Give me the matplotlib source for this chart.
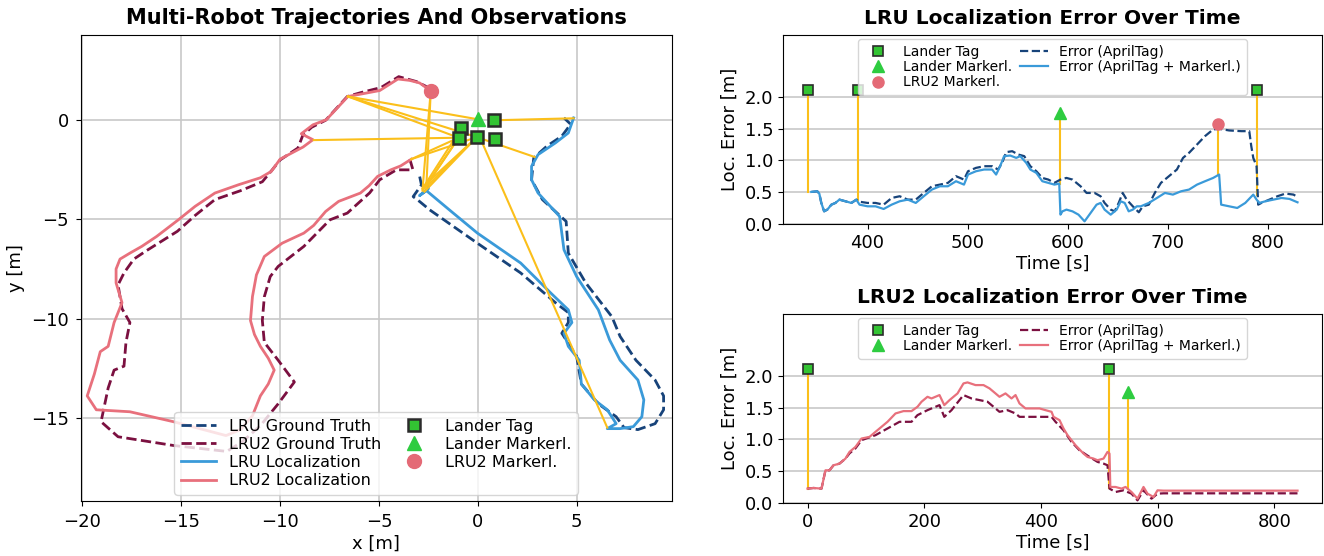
import matplotlib
matplotlib.use("Agg")
import matplotlib.pyplot as plt

plt.rcParams['font.family'] = ['DejaVu Sans']

# ---------------- data: trajectories (m) ----------------
lru_gt_x = [-2.94, -2.85, -3.27, -2.94, -2.43, -0.02, 2.17, 3.93, 4.58, 4.58, 4.25, 5.0, 5.24, 6.1, 7.0, 7.4,
            8.1, 8.97, 9.4, 9.4, 8.97, 8.0, 7.2, 6.78, 5.46, 4.58, 4.47, 3.27, 2.72, 2.83, 3.5, 4.25, 4.7, 4.36]
lru_gt_y = [-2.84, -3.26, -3.85, -4.1, -4.52, -6.2, -7.7, -9.2, -9.7, -10.2, -10.74, -11.9, -13.3, -14.3, -14.95, -15.5,
            -15.6, -15.3, -14.6, -13.9, -13.1, -12.1, -10.9, -9.9, -8.2, -6.7, -5.1, -4.0, -3.0, -1.9, -1.3, -0.8, -0.2, 0.12]

lru_loc_x = [-2.55, -2.5, -2.95, -2.6, -1.34, -0.02, 2.17, 3.7, 4.58, 4.76, 4.36, 4.58, 5.13, 5.24, 5.9, 6.55, 7.0,
             6.55, 7.2, 7.87, 8.3, 8.4, 8.1, 7.2, 6.67, 6.1, 5.0, 4.36, 4.14, 3.05, 2.72, 2.72, 3.05, 3.93, 4.58, 4.85]
lru_loc_y = [-3.1, -3.45, -3.8, -3.55, -4.6, -5.69, -7.2, -8.72, -9.56, -10.2, -10.74, -11.4, -12.1, -13.3, -14.1, -14.6, -15.3,
             -15.55, -15.55, -15.45, -14.95, -14.1, -13.1, -12.1, -11.08, -9.56, -7.88, -6.53, -4.85, -3.67, -3.0, -2.32, -1.73, -1.14, -0.64, 0.12]

lru2_gt_x = [-3.44, -3.28, -4.12, -4.96, -5.47, -6.6, -7.48, -8.8, -10.1, -10.5, -10.8, -10.9, -10.8, -10.1, -9.28, -10.1,
             -11.0, -11.9, -12.7, -15.4, -18.2, -19.06, -18.7, -18.4, -17.9, -17.8, -17.6, -18.0, -18.2, -17.9, -17.4,
             -16.8, -16.0, -15.2, -14.3, -13.3, -12.0, -10.9, -10.4, -10.0, -9.1, -8.85, -8.4, -7.7, -6.6, -5.9, -4.9,
             -4.0, -3.1, -2.6]
lru2_gt_y = [-1.96, -2.5, -2.5, -3.0, -3.66, -4.68, -5.02, -6.36, -7.37, -7.88, -8.9, -10.1, -11.2, -12.1, -13.2, -14.3,
             -15.4, -16.2, -16.7, -16.4, -15.96, -15.2, -13.5, -12.6, -12.4, -11.2, -10.2, -9.5, -8.3, -7.7, -7.0,
             -6.6, -6.1, -5.6, -4.8, -4.0, -3.55, -3.1, -2.5, -2.0, -1.4, -0.75, -0.35, 0.0, 1.2, 1.4, 1.65,
             2.2, 1.95, 1.7]

lru2_loc_x = [-3.36, -3.9, -4.4, -5.07, -5.5, -5.94, -7.04, -7.7, -8.3, -8.8, -9.9, -10.8, -11.2, -11.4, -11.5, -11.3,
              -11.0, -10.6, -10.3, -10.6, -11.0, -11.4, -12.0, -12.74, -15.4, -17.6, -19.3, -19.76, -19.4, -19.1, -18.7,
              -18.4, -18.0, -18.3, -18.3, -18.1, -17.6, -17.0, -16.25, -15.15, -14.3, -13.3, -12.1, -11.0, -10.45,
              -10.0, -8.84, -8.34, -8.93, -8.34, -7.66, -6.57, -5.81, -4.96, -4.04, -3.44, -2.94, -2.52, -2.38]
lru2_loc_y = [-1.96, -2.3, -2.5, -2.83, -3.3, -3.67, -4.09, -4.6, -5.3, -5.69, -6.2, -6.87, -7.8, -8.89, -10.1, -10.8,
              -11.4, -12.0, -12.6, -13.3, -13.9, -14.9, -15.6, -15.9, -15.2, -14.7, -14.6, -13.9, -12.8, -11.67, -11.4,
              -10.2, -9.2, -8.2, -7.5, -7.0, -6.7, -6.36, -5.86, -5.02, -4.34, -3.67, -3.25, -2.9, -2.58,
              -1.96, -1.35, -0.98, -0.68, -0.23, 0.03, 1.2, 1.34, 1.5, 2.08, 2.01, 1.88, 1.58, 1.49]

# landmarks
tag_x = [0.83, -0.83, -0.97, -0.05, 0.85]
tag_y = [0.0, -0.4, -0.88, -0.85, -0.92]
mk_x = [0.0]
mk_y = [0.05]
lru2mk_x = [-2.37]
lru2mk_y = [1.5]

# observation rays: robot position -> landmark
obs_x0 = [-6.57, -6.57, -6.57, -8.3, -2.38, -2.38, -3.36, -3.36, -2.6, -2.65, -2.75, -2.7, -2.8, -2.6, 2.87, 4.85, 6.55]
obs_y0 = [1.2, 1.2, 1.2, -1.0, 1.49, 1.49, -1.96, -1.96, -3.3, -3.4, -3.5, -3.6, -3.45, -3.2, -1.85, 0.1, -15.5]
obs_x1 = [0.0, -0.97, -0.05, -0.97, -2.6, -2.8, -0.97, -0.05, -0.97, -0.05, -0.97, -0.05, -0.83, -0.05, -0.05, 0.83, 0.1]
obs_y1 = [0.05, -0.88, -0.85, -0.88, -3.3, -3.55, -0.88, -0.85, -0.88, -0.85, -0.88, -0.85, -0.4, -0.85, -0.85, 0.0, -0.85]

# ---------------- data: LRU error over time ----------------
lru_t = [343.8, 349.8, 351.8, 353.8, 356.6, 359.8, 363.9, 367.9, 371.9, 377.9, 383.9, 388.8, 392.0, 400, 408, 416.1,
         424.1, 432.1, 440.2, 448.2, 456.2, 464.3, 472.3, 480.3, 488.4, 496.4, 500.4, 508.4, 516.5, 524.5, 528.5,
         532.5, 536.5, 542.6, 548.6, 552.6, 558.6, 562.7, 568.7, 574.7, 580.7, 586.7, 591.6, 592.8, 594.8, 598.8,
         604.8, 610.8, 616.9, 622.9, 628.9, 632.9, 636.9, 643.0, 649.0, 653.0, 657.0, 661.0, 665.1, 669.1, 673.1,
         681.1, 689.2, 697.2, 705.2, 713.3, 721.3, 729.3, 737.3, 745.4, 751.4, 753.4, 761.4, 769.5, 777.5, 785.5,
         788.8, 791.6, 797.6, 805.6, 813.7, 821.7, 829.7]
lru_err_both = [0.504, 0.514, 0.478, 0.331, 0.199, 0.226, 0.304, 0.331, 0.383, 0.357, 0.331, 0.383, 0.304, 0.278, 0.278, 0.236,
                0.304, 0.357, 0.383, 0.331, 0.436, 0.541, 0.593, 0.593, 0.672, 0.619, 0.777, 0.829, 0.856, 0.856, 0.777,
                0.908, 1.066, 1.076, 1.039, 1.066, 0.961, 0.856, 0.803, 0.672, 0.646, 0.619, 0.635, 0.147, 0.199, 0.226,
                0.199, 0.147, 0.042, 0.173, 0.304, 0.331, 0.226, 0.147, 0.226, 0.357, 0.331, 0.199, 0.226, 0.278, 0.278,
                0.331, 0.409, 0.488, 0.462, 0.514, 0.541, 0.619, 0.672, 0.724, 0.777, 0.304, 0.278, 0.252, 0.331, 0.462,
                0.383, 0.331, 0.357, 0.383, 0.409, 0.394, 0.341]

lru_t_at = [343.8, 349.8, 351.8, 353.8, 356.6, 359.8, 363.9, 367.9, 371.9, 377.9, 383.9, 388.8, 392.0, 400, 408, 416.1,
            424.1, 432.1, 440.2, 448.2, 456.2, 464.3, 472.3, 480.3, 488.4, 496.4, 500.4, 508.4, 516.5, 524.5, 530.5,
            534.5, 538.6, 544.6, 550.6, 556.6, 562.7, 568.7, 574.7, 580.7, 586.7, 592.8, 598.8, 604.8, 612.9, 618.9,
            626.9, 632.9, 636.9, 643.0, 647.0, 651.0, 655.0, 659.0, 665.1, 671.1, 675.1, 681.1, 687.1, 693.2, 701.2,
            709.2, 715.3, 721.3, 729.3, 737.3, 745.4, 751.4, 761.4, 773.5, 781.5, 783.5, 785.5, 788.8, 790.4, 793.6,
            801.6, 809.6, 817.7, 825.7, 829.7]
lru_err_at = [0.504, 0.514, 0.478, 0.331, 0.199, 0.226, 0.304, 0.331, 0.383, 0.357, 0.331, 0.383, 0.35, 0.331, 0.331, 0.304,
              0.409, 0.436, 0.383, 0.383, 0.488, 0.593, 0.619, 0.646, 0.751, 0.698, 0.829, 0.882, 0.908, 0.908, 0.856,
              0.961, 1.129, 1.144, 1.092, 1.066, 0.908, 0.829, 0.724, 0.698, 0.646, 0.698, 0.724, 0.698, 0.593, 0.488,
              0.488, 0.436, 0.331, 0.226, 0.199, 0.331, 0.488, 0.383, 0.278, 0.184, 0.278, 0.304, 0.488, 0.646, 0.751,
              0.856, 1.039, 1.118, 1.249, 1.381, 1.486, 1.496, 1.470, 1.459, 1.459, 1.223, 1.039, 0.908, 0.304, 0.331,
              0.383, 0.436, 0.478, 0.462, 0.425]

lru_tag_t = [340, 390, 789]
lru_tag_h = [2.1, 2.1, 2.1]
lru_tag_bottom = [0.5, 0.37, 0.45]
lru_mk_t = [592]
lru_mk_h = [1.75]
lru_mk_bottom = [0.63]
lru_lru2mk_t = [750]
lru_lru2mk_h = [1.57]
lru_lru2mk_bottom = [0.77]

# ---------------- data: LRU2 error over time ----------------
lru2_t = [0, 10.3, 24.0, 30.8, 37.7, 44.6, 54.8, 65.1, 72.0, 82.3, 92.5, 106.3, 116.5, 126.8, 137.1, 150.8, 164.5,
          178.2, 188.5, 195.4, 205.6, 212.5, 226.2, 234.4, 243.4, 257.1, 267.3, 274.2, 287.9, 301.6, 311.9, 318.8,
          329.0, 339.3, 349.6, 356.5, 363.3, 373.6, 383.9, 397.6, 407.9, 418.2, 421.6, 431.9, 438.7, 445.6, 459.3,
          473.0, 479.9, 490.1, 497.0, 507.3, 514.1, 517.5, 518.9, 527.8, 538.1, 545.0, 555.2, 565.5, 575.8, 582.7,
          593.0, 599.8, 610.1, 706.1, 839.7]
lru2_err_both = [0.226, 0.236, 0.226, 0.514, 0.514, 0.593, 0.619, 0.698, 0.803, 0.882, 1.013, 1.039, 1.118, 1.197, 1.276,
                 1.407, 1.444, 1.444, 1.512, 1.591, 1.669, 1.643, 1.696, 1.538, 1.617, 1.722, 1.879, 1.895, 1.853, 1.853,
                 1.801, 1.748, 1.669, 1.722, 1.643, 1.696, 1.564, 1.486, 1.486, 1.486, 1.459, 1.433, 1.354, 1.302, 1.171,
                 1.066, 0.908, 0.777, 0.724, 0.698, 0.672, 0.698, 0.803, 0.777, 0.252, 0.252, 0.226, 0.252, 0.173, 0.068,
                 0.252, 0.147, 0.094, 0.199, 0.194, 0.194, 0.194]

lru2_t_at = [0, 10.3, 24.0, 30.8, 37.7, 44.6, 54.8, 65.1, 72.0, 82.3, 92.5, 116.5, 137.1, 157.7, 178.2, 188.5, 205.6,
             226.2, 234.4, 246.8, 267.3, 281.0, 294.8, 308.5, 318.8, 329.0, 342.7, 356.5, 363.3, 383.9, 404.4, 418.2,
             425.0, 438.7, 452.4, 466.1, 483.3, 497.0, 507.3, 514.1, 517.5, 527.8, 541.5, 555.2, 565.5, 575.8, 589.5,
             599.8, 610.1, 839.7]
lru2_err_at = [0.226, 0.236, 0.226, 0.514, 0.514, 0.593, 0.619, 0.698, 0.78, 0.86, 0.987, 1.066, 1.171, 1.276, 1.276,
               1.381, 1.459, 1.538, 1.354, 1.459, 1.696, 1.643, 1.617, 1.591, 1.512, 1.433, 1.459, 1.407, 1.354, 1.354,
               1.354, 1.354, 1.276, 1.144, 0.961, 0.829, 0.724, 0.646, 0.619, 0.593, 0.226, 0.173, 0.199, 0.147, 0.042,
               0.199, 0.068, 0.147, 0.152, 0.152]

lru2_tag_t = [0, 517]
lru2_tag_h = [2.1, 2.1]
lru2_tag_bottom = [0.22, 0.24]
lru2_mk_t = [550]
lru2_mk_h = [1.75]
lru2_mk_bottom = [0.22]

# ---------------- styles ----------------
C_LRU_GT = '#17437a'
C_LRU_LOC = '#3a9ad9'
C_LRU2_GT = '#7b1040'
C_LRU2_LOC = '#e8707c'
C_OBS = '#fbbf1a'
C_TAG = '#33c433'
C_TAG_EDGE = '#2b2b2b'
C_MK = '#2ecc40'
C_CIRC = '#e46a76'
C_GRID = '#c8c8c8'

fig = plt.figure(figsize=(13.24, 5.56), dpi=100)

# ---------------- left: trajectories ----------------
axL = fig.add_axes([80.5 / 1324, 55 / 556, 591 / 1324, 466 / 556])
for x0, y0, x1, y1 in zip(obs_x0, obs_y0, obs_x1, obs_y1):
    axL.plot([x0, x1], [y0, y1], color=C_OBS, lw=1.5, zorder=3)
axL.plot(lru_gt_x, lru_gt_y, '--', color=C_LRU_GT, lw=2, label='LRU Ground Truth', zorder=2)
axL.plot(lru2_gt_x, lru2_gt_y, '--', color=C_LRU2_GT, lw=2, label='LRU2 Ground Truth', zorder=2)
axL.plot(lru_loc_x, lru_loc_y, '-', color=C_LRU_LOC, lw=2, label='LRU Localization', zorder=2)
axL.plot(lru2_loc_x, lru2_loc_y, '-', color=C_LRU2_LOC, lw=2, label='LRU2 Localization', zorder=2)
axL.plot(tag_x, tag_y, 's', color=C_TAG, mec=C_TAG_EDGE, mew=1.8, ms=9, ls='none', label='Lander Tag', zorder=5)
axL.plot(mk_x, mk_y, '^', color=C_MK, ms=10, ls='none', label='Lander Markerl.', zorder=5)
axL.plot(lru2mk_x, lru2mk_y, 'o', color=C_CIRC, ms=10, ls='none', label='LRU2 Markerl.', zorder=5)
axL.set_xlim(-20.1, 9.8)
axL.set_ylim(-19.2, 4.3)
axL.set_xticks([-20, -15, -10, -5, 0, 5])
axL.set_yticks([-15, -10, -5, 0])
axL.grid(True, color=C_GRID, lw=1.2)
axL.set_axisbelow(True)
axL.tick_params(labelsize=13, pad=5)
axL.set_xlabel('x [m]', fontsize=13, labelpad=3)
axL.set_ylabel('y [m]', fontsize=13)
axL.set_title('Multi-Robot Trajectories And Observations', fontsize=15, fontweight='bold', pad=8)
axL.legend(loc='lower center', ncol=2, fontsize=11.5, labelspacing=0.2, columnspacing=1.0,
           handlelength=2.2, borderaxespad=0.4)


def error_axes(rect, title):
    ax = fig.add_axes(rect)
    ax.grid(True, axis='y', color=C_GRID, lw=1.2)
    ax.set_axisbelow(True)
    ax.set_ylim(0, 2.97)
    ax.set_yticks([0.0, 0.5, 1.0, 1.5, 2.0])
    ax.tick_params(labelsize=13)
    ax.set_xlabel('Time [s]', fontsize=13, labelpad=2)
    ax.set_ylabel('Loc. Error [m]', fontsize=13)
    ax.set_title(title, fontsize=14.5, fontweight='bold', pad=8)
    return ax


# ---------------- top right: LRU error ----------------
axA = error_axes([783 / 1324, 332 / 556, 539 / 1324, 189 / 556], 'LRU Localization Error Over Time')
for t, h, b in zip(lru_tag_t + lru_mk_t + lru_lru2mk_t, lru_tag_h + lru_mk_h + lru_lru2mk_h,
                   lru_tag_bottom + lru_mk_bottom + lru_lru2mk_bottom):
    axA.plot([t, t], [b, h], color=C_OBS, lw=1.5, zorder=2)
axA.plot(lru_tag_t, lru_tag_h, 's', color=C_TAG, mec=C_TAG_EDGE, mew=1.2, ms=7, ls='none', label='Lander Tag', zorder=5)
axA.plot(lru_mk_t, lru_mk_h, '^', color=C_MK, ms=8, ls='none', label='Lander Markerl.', zorder=5)
axA.plot(lru_lru2mk_t, lru_lru2mk_h, 'o', color=C_CIRC, ms=8, ls='none', label='LRU2 Markerl.', zorder=5)
axA.plot(lru_t_at, lru_err_at, '--', color=C_LRU_GT, lw=1.6, label='Error (AprilTag)', zorder=3)
axA.plot(lru_t, lru_err_both, '-', color=C_LRU_LOC, lw=1.6, label='Error (AprilTag + Markerl.)', zorder=3)
axA.legend(loc='upper center', ncol=2, fontsize=10, labelspacing=0.1, columnspacing=0.6,
           handlelength=2.0, borderaxespad=0.3)

# ---------------- bottom right: LRU2 error ----------------
axB = error_axes([783 / 1324, 53 / 556, 539 / 1324, 189 / 556], 'LRU2 Localization Error Over Time')
for t, h, b in zip(lru2_tag_t + lru2_mk_t, lru2_tag_h + lru2_mk_h, lru2_tag_bottom + lru2_mk_bottom):
    axB.plot([t, t], [b, h], color=C_OBS, lw=1.5, zorder=2)
axB.plot(lru2_tag_t, lru2_tag_h, 's', color=C_TAG, mec=C_TAG_EDGE, mew=1.2, ms=7, ls='none', label='Lander Tag', zorder=5)
axB.plot(lru2_mk_t, lru2_mk_h, '^', color=C_MK, ms=8, ls='none', label='Lander Markerl.', zorder=5)
axB.plot(lru2_t_at, lru2_err_at, '--', color=C_LRU2_GT, lw=1.6, label='Error (AprilTag)', zorder=3)
axB.plot(lru2_t, lru2_err_both, '-', color=C_LRU2_LOC, lw=1.6, label='Error (AprilTag + Markerl.)', zorder=3)
axB.set_xticks([0, 200, 400, 600, 800])
axB.legend(loc='upper center', ncol=2, fontsize=10, labelspacing=0.1, columnspacing=0.6,
           handlelength=2.0, borderaxespad=0.3)

fig.savefig('out.png', dpi=100)
